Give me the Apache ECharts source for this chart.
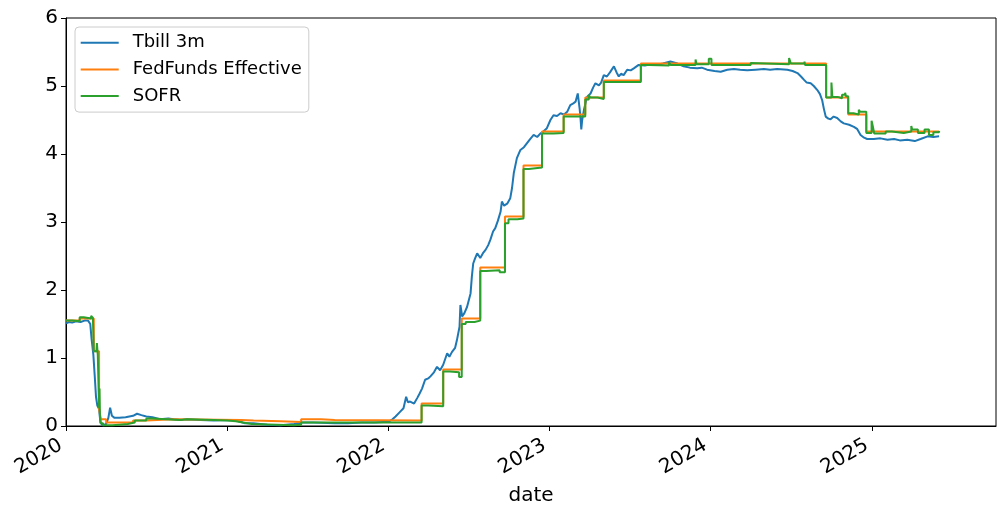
<!DOCTYPE html>
<html>
<head>
<meta charset="utf-8">
<script src="https://cdn.jsdelivr.net/npm/echarts@6/dist/echarts.min.js"></script>
<style>html,body{margin:0;padding:0;background:#fff}#c{width:1005px;height:515px}</style>
</head>
<body>
<div id="c"></div>
<script>
const seriesNames = ['Tbill 3m', 'FedFunds Effective', 'SOFR'];
const yTicks = [0, 1, 2, 3, 4, 5, 6];

const tbill3m = [
['2020-01-01',1.51],['2020-01-08',1.53],['2020-01-15',1.52],['2020-01-24',1.54],['2020-02-03',1.53],
['2020-02-12',1.55],['2020-02-20',1.55],['2020-02-25',1.50],['2020-02-28',1.28],['2020-03-03',1.05],
['2020-03-06',0.75],['2020-03-09',0.43],['2020-03-12',0.30],['2020-03-16',0.25],['2020-03-19',0.05],
['2020-03-24',0.01],['2020-04-01',0.03],['2020-04-06',0.12],['2020-04-10',0.27],['2020-04-14',0.15],
['2020-04-20',0.12],['2020-05-01',0.12],['2020-05-15',0.13],['2020-06-01',0.15],['2020-06-10',0.18],
['2020-06-20',0.16],['2020-07-01',0.14],['2020-07-15',0.13],['2020-08-01',0.10],['2020-08-20',0.11],
['2020-09-01',0.10],['2020-09-20',0.09],['2020-10-01',0.10],['2020-11-01',0.09],['2020-12-01',0.08],
['2021-01-01',0.09],['2021-01-20',0.08],['2021-02-10',0.04],['2021-03-01',0.04],['2021-04-01',0.02],
['2021-05-01',0.01],['2021-06-01',0.03],['2021-06-20',0.05],['2021-07-15',0.05],['2021-09-01',0.04],
['2021-10-01',0.04],['2021-11-01',0.05],['2021-12-01',0.05],['2021-12-20',0.06],['2022-01-01',0.06],
['2022-01-10',0.10],['2022-01-17',0.14],['2022-01-26',0.20],['2022-02-04',0.26],['2022-02-10',0.43],
['2022-02-14',0.35],['2022-02-19',0.36],['2022-02-28',0.33],['2022-03-07',0.41],['2022-03-12',0.47],
['2022-03-18',0.55],['2022-03-25',0.68],['2022-04-01',0.70],['2022-04-06',0.73],['2022-04-14',0.79],
['2022-04-21',0.87],['2022-04-28',0.82],['2022-05-05',0.90],['2022-05-14',1.07],['2022-05-19',1.02],
['2022-05-25',1.09],['2022-06-01',1.15],['2022-06-05',1.26],['2022-06-11',1.46],['2022-06-13',1.78],
['2022-06-17',1.61],['2022-06-22',1.66],['2022-06-28',1.75],['2022-07-06',1.95],['2022-07-09',2.20],
['2022-07-12',2.39],['2022-07-16',2.46],['2022-07-21',2.54],['2022-07-28',2.47],['2022-08-04',2.55],
['2022-08-09',2.59],['2022-08-15',2.66],['2022-08-20',2.74],['2022-08-26',2.86],['2022-08-31',2.91],
['2022-09-06',3.02],['2022-09-12',3.15],['2022-09-15',3.30],['2022-09-20',3.24],['2022-09-27',3.27],
['2022-10-04',3.35],['2022-10-08',3.50],['2022-10-12',3.72],['2022-10-19',3.94],['2022-10-27',4.06],
['2022-11-04',4.10],['2022-11-11',4.16],['2022-11-18',4.22],['2022-11-26',4.28],['2022-12-04',4.25],
['2022-12-11',4.30],['2022-12-18',4.33],['2022-12-26',4.38],['2023-01-03',4.50],['2023-01-10',4.57],
['2023-01-18',4.56],['2023-01-26',4.60],['2023-02-03',4.58],['2023-02-10',4.62],['2023-02-17',4.72],
['2023-02-23',4.74],['2023-03-01',4.77],['2023-03-06',4.89],['2023-03-10',4.68],['2023-03-12',4.55],
['2023-03-14',4.36],['2023-03-16',4.50],['2023-03-20',4.65],['2023-03-27',4.84],['2023-04-04',4.89],
['2023-04-10',4.98],['2023-04-15',5.04],['2023-04-23',5.01],['2023-04-28',5.05],['2023-05-04',5.16],
['2023-05-11',5.14],['2023-05-18',5.20],['2023-05-27',5.29],['2023-06-02',5.20],['2023-06-07',5.14],
['2023-06-12',5.18],['2023-06-18',5.16],['2023-06-26',5.24],['2023-07-04',5.23],['2023-07-11',5.26],
['2023-07-22',5.31],['2023-08-05',5.30],['2023-08-18',5.32],['2023-09-01',5.31],['2023-09-15',5.33],
['2023-10-02',5.36],['2023-10-18',5.33],['2023-11-01',5.29],['2023-11-15',5.27],['2023-12-02',5.26],
['2023-12-12',5.27],['2023-12-24',5.24],['2024-01-10',5.22],['2024-01-24',5.21],['2024-02-08',5.24],
['2024-02-23',5.25],['2024-03-08',5.24],['2024-03-24',5.23],['2024-04-12',5.24],['2024-05-01',5.25],
['2024-05-15',5.24],['2024-05-31',5.25],['2024-06-23',5.24],['2024-07-05',5.22],['2024-07-16',5.19],
['2024-07-24',5.14],['2024-07-31',5.09],['2024-08-06',5.05],['2024-08-15',5.04],['2024-08-22',5.00],
['2024-08-30',4.94],['2024-09-05',4.88],['2024-09-10',4.79],['2024-09-14',4.66],['2024-09-18',4.55],
['2024-09-24',4.52],['2024-09-29',4.51],['2024-10-06',4.55],['2024-10-14',4.53],['2024-10-22',4.48],
['2024-10-29',4.45],['2024-11-10',4.43],['2024-11-21',4.40],['2024-11-28',4.37],['2024-12-06',4.28],
['2024-12-14',4.24],['2024-12-21',4.22],['2025-01-05',4.22],['2025-01-20',4.23],['2025-02-05',4.21],
['2025-02-20',4.22],['2025-03-05',4.20],['2025-03-22',4.21],['2025-04-08',4.19],['2025-04-21',4.22],
['2025-05-07',4.26],['2025-05-20',4.25],['2025-06-02',4.26]
];

const fedFundsEffective = [
['2020-01-01',1.55],['2020-02-01',1.58],['2020-03-04',1.10],['2020-03-16',0.25],['2020-03-20',0.10],
['2020-04-01',0.05],['2020-06-01',0.08],['2020-07-01',0.10],['2020-09-01',0.09],['2021-02-01',0.08],
['2021-03-01',0.07],['2021-05-01',0.06],['2021-06-17',0.10],['2021-08-01',0.09],['2021-09-01',0.08],
['2022-03-17',0.33],['2022-05-05',0.83],['2022-06-16',1.58],['2022-07-28',2.33],['2022-09-22',3.08],
['2022-11-03',3.83],['2022-12-15',4.33],['2023-02-02',4.58],['2023-03-23',4.83],['2023-05-04',5.08],
['2023-07-27',5.33],['2024-09-19',4.83],['2024-11-08',4.58],['2024-12-19',4.33],['2025-06-02',4.33]
];

const sofr = [
['2020-01-01',1.55],['2020-01-15',1.54],['2020-02-01',1.60],['2020-02-10',1.58],['2020-02-27',1.62],
['2020-03-02',1.59],['2020-03-04',1.10],['2020-03-10',1.12],['2020-03-11',1.22],['2020-03-13',1.05],
['2020-03-16',0.26],['2020-03-17',0.55],['2020-03-18',0.15],['2020-03-20',0.04],['2020-03-25',0.01],
['2020-04-15',0.02],['2020-05-01',0.03],['2020-05-20',0.05],['2020-06-05',0.08],['2020-07-01',0.11],
['2020-07-15',0.10],['2020-08-15',0.09],['2020-09-15',0.10],['2020-10-01',0.09],['2020-12-01',0.08],
['2021-01-01',0.07],['2021-01-20',0.05],['2021-02-05',0.03],['2021-02-25',0.01],['2021-06-01',0.02],
['2021-06-17',0.05],['2022-03-17',0.30],['2022-04-01',0.29],['2022-05-05',0.80],['2022-05-20',0.79],
['2022-06-10',0.72],['2022-06-16',1.50],['2022-06-25',1.53],['2022-07-15',1.55],['2022-07-28',2.28],
['2022-08-10',2.29],['2022-09-10',2.26],['2022-09-22',2.98],['2022-09-30',3.04],['2022-10-20',3.05],
['2022-11-03',3.78],['2022-11-15',3.80],['2022-12-15',4.30],['2023-01-10',4.31],['2023-02-02',4.55],
['2023-03-23',4.80],['2023-03-31',4.87],['2023-04-03',4.83],['2023-04-20',4.81],['2023-05-04',5.06],
['2023-05-31',5.08],['2023-06-02',5.06],['2023-07-27',5.31],['2023-08-15',5.30],['2023-09-29',5.35],
['2023-10-02',5.31],['2023-11-28',5.39],['2023-11-30',5.32],['2023-12-28',5.40],['2024-01-03',5.31],
['2024-04-01',5.34],['2024-04-03',5.32],['2024-06-27',5.41],['2024-07-01',5.33],['2024-08-01',5.36],
['2024-08-02',5.31],['2024-09-19',4.83],['2024-10-01',5.05],['2024-10-03',4.84],['2024-10-15',4.82],
['2024-10-25',4.87],['2024-11-01',4.90],['2024-11-03',4.85],['2024-11-08',4.60],['2024-11-20',4.58],
['2024-12-02',4.65],['2024-12-05',4.62],['2024-12-19',4.31],['2024-12-31',4.49],['2025-01-03',4.40],
['2025-01-06',4.30],['2025-02-01',4.33],['2025-02-15',4.31],['2025-03-14',4.33],['2025-03-31',4.41],
['2025-04-02',4.36],['2025-04-15',4.31],['2025-04-30',4.36],['2025-05-10',4.28],['2025-05-20',4.32],
['2025-06-02',4.34]
];

const colors = ['#1f77b4', '#ff7f0e', '#2ca02c'];
const FONT = 'DejaVu Sans';
const chart = echarts.init(document.getElementById('c'), null, {renderer: 'canvas'});
const mk = (name, data, color, step) => ({
  name, type: 'line', data, step: step || false, symbol: 'none', showSymbol: false,
  lineStyle: {width: 2, color}, itemStyle: {color}, animation: false
});
chart.setOption({
  animation: false,
  backgroundColor: '#fff',
  grid: {left: 66, right: 9, top: 18, bottom: 89, show: true, borderColor: '#000', borderWidth: 1, backgroundColor: 'transparent'},
  legend: {
    left: 75, top: 27, orient: 'vertical', icon: 'rect', itemWidth: 38, itemHeight: 2, itemGap: 4.7,
    padding: [4.7, 7, 5, 5.7], backgroundColor: 'rgba(255,255,255,0.8)', borderColor: '#cccccc',
    borderWidth: 1, borderRadius: 4,
    textStyle: {fontFamily: FONT, fontSize: 18, lineHeight: 22, color: '#000', padding: [0, 0, 0, 9]},
    data: seriesNames
  },
  xAxis: {
    type: 'time', min: '2020-01-01', max: '2025-10-09',
    minInterval: 365 * 86400000, splitNumber: 6,
    name: 'date', nameLocation: 'middle', nameGap: 60,
    nameTextStyle: {fontFamily: FONT, fontSize: 20, color: '#000'},
    axisLine: {lineStyle: {color: '#000', width: 1}},
    axisTick: {show: true, length: 5, lineStyle: {color: '#000'}},
    splitLine: {show: false},
    axisLabel: {rotate: 30, fontFamily: FONT, fontSize: 20, color: '#000', margin: 15,
      padding: [0, 6, 0, 0],
      formatter: v => String(new Date(v).getUTCFullYear()), showMinLabel: true, hideOverlap: false}
  },
  yAxis: {
    type: 'value', min: yTicks[0], max: yTicks[yTicks.length - 1], interval: 1,
    axisLine: {show: true, lineStyle: {color: '#000', width: 1}},
    axisTick: {show: true, length: 5, lineStyle: {color: '#000'}},
    splitLine: {show: false},
    axisLabel: {fontFamily: FONT, fontSize: 20, color: '#000', margin: 8}
  },
  series: [
    mk(seriesNames[0], tbill3m, colors[0]),
    mk(seriesNames[1], fedFundsEffective, colors[1], 'end'),
    mk(seriesNames[2], sofr, colors[2], 'end')
  ]
});
</script>
</body>
</html>
